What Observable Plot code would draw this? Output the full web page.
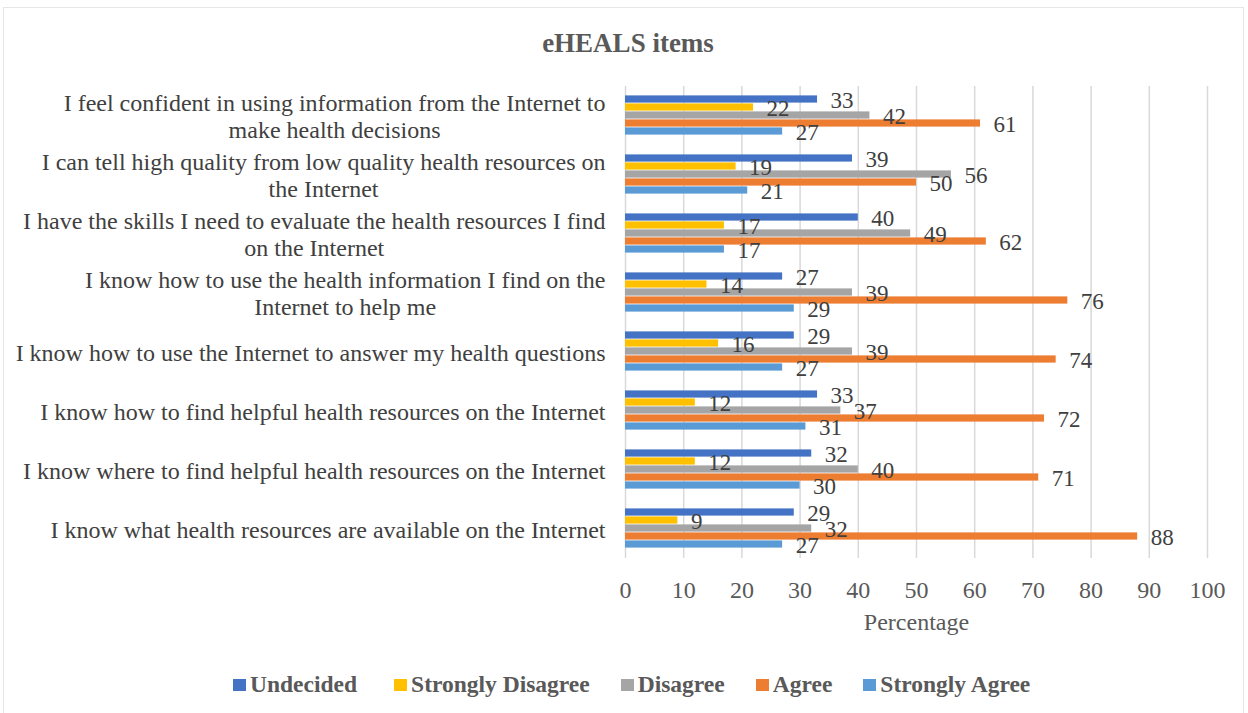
<!DOCTYPE html>
<html>
<head>
<meta charset="utf-8">
<script src="https://cdn.jsdelivr.net/npm/d3@7"></script>
<script src="https://cdn.jsdelivr.net/npm/@observablehq/plot@0.6"></script>
<style>
  body { margin: 0; background: #fff; }
  #wrap { position: relative; width: 1248px; height: 713px; font-family: "Liberation Serif", "Times New Roman", serif; }
  #border { position: absolute; left: 3px; top: 7px; width: 1241px; height: 710px; border: 1px solid #e6e6e6; box-sizing: border-box; }
  #title { position: absolute; left: 8px; top: 28px; width: 1240px; text-align: center; font-weight: bold; font-size: 27px; line-height: 30px; color: #595959; }
  #chart { position: absolute; left: 0; top: 70px; }
  #legend { position: absolute; left: 233px; top: 670px; display: flex; align-items: center; font-weight: bold; font-size: 23.5px; line-height: 28px; color: #595959; white-space: nowrap; }
  .item { display: flex; align-items: center; margin-right: 31px; }
  .item:first-child { margin-right: 37px; }
  .sw { width: 13px; height: 12px; margin-right: 4px; margin-top: 2px; }
</style>
</head>
<body>
<div id="wrap">
  <div id="border"></div>
  <div id="title">eHEALS items</div>
  <div id="chart"></div>
  <div id="legend"></div>
</div>
<script>
const categories = [
  "I feel confident in using information from the Internet to make health decisions",
  "I can tell high quality from low quality health resources on the Internet",
  "I have the skills I need to evaluate the health resources I find on the Internet",
  "I know how to use the health information I find on the Internet to help me",
  "I know how to use the Internet to answer my health questions",
  "I know how to find helpful health resources on the Internet",
  "I know where to find helpful health resources on the Internet",
  "I know what health resources are available on the Internet"
];
const tickLabels = [
  "I feel confident in using information from the Internet to\nmake health decisions",
  "I can tell high quality from low quality health resources on\nthe Internet",
  "I have the skills I need to evaluate the health resources I find\non the Internet",
  "I know how to use the health information I find on the\nInternet to help me",
  "I know how to use the Internet to answer my health questions",
  "I know how to find helpful health resources on the Internet",
  "I know where to find helpful health resources on the Internet",
  "I know what health resources are available on the Internet"
];
const seriesNames = ["Undecided", "Strongly Disagree", "Disagree", "Agree", "Strongly Agree"];
const undecided        = [33, 39, 40, 27, 29, 33, 32, 29];
const stronglyDisagree = [22, 19, 17, 14, 16, 12, 12, 9];
const disagree         = [42, 56, 49, 39, 39, 37, 40, 32];
const agree            = [61, 50, 62, 76, 74, 72, 71, 88];
const stronglyAgree    = [27, 21, 17, 29, 27, 31, 30, 27];
const seriesColors = ["#4472C4", "#FFC000", "#A5A5A5", "#ED7D31", "#5B9BD5"];
const xTicks = [0, 10, 20, 30, 40, 50, 60, 70, 80, 90, 100];

const seriesValues = [undecided, stronglyDisagree, disagree, agree, stronglyAgree];
const data = [];
categories.forEach((c, i) => {
  seriesNames.forEach((s, j) => {
    data.push({category: c, series: s, value: seriesValues[j][i]});
  });
});
const labelOf = new Map(categories.map((c, i) => [c, tickLabels[i]]));

const chart = Plot.plot({
  width: 1248,
  height: 580,
  marginTop: 16,
  marginBottom: 91.7,
  marginLeft: 625,
  marginRight: 41,
  style: {fontFamily: "'Liberation Serif', 'Times New Roman', serif", fontSize: "24px", background: "transparent"},
  x: {domain: [0, 100], axis: null},
  y: {domain: seriesNames, paddingInner: 0, paddingOuter: 0.93, axis: null},
  fy: {domain: categories, padding: 0, axis: null},
  color: {domain: seriesNames, range: seriesColors},
  marks: [
    Plot.gridX(xTicks, {stroke: "#d9d9d9", strokeOpacity: 1, strokeWidth: 1.5}),
    Plot.barX(data, {x: "value", y: "series", fy: "category", fill: "series", insetTop: 0.4, insetBottom: 0.4}),
    Plot.text(data, {x: "value", y: "series", fy: "category", text: d => String(d.value), dx: 13, dy: 1.5, textAnchor: "start", fontSize: 23, fill: "#404040"}),
    Plot.axisX({ticks: xTicks, tickSize: 0, tickPadding: 22, fontSize: 24, color: "#595959", label: "Percentage", labelAnchor: "center", labelArrow: "none", labelOffset: 71}),
    Plot.axisFy({anchor: "left", tickSize: 0, tickPadding: 20, fontSize: 24, color: "#404040", tickFormat: d => labelOf.get(d), lineHeight: 1.12, label: null})
  ]
});
document.getElementById("chart").appendChild(chart);

// center the lines of the wrapped category labels, as in the reference
chart.querySelectorAll('g[aria-label="fy-axis tick label"] text').forEach(t => {
  const spans = t.querySelectorAll("tspan");
  if (spans.length > 1) {
    let maxW = 0;
    spans.forEach(s => { maxW = Math.max(maxW, s.getComputedTextLength()); });
    t.setAttribute("text-anchor", "middle");
    spans.forEach(s => s.setAttribute("x", -maxW / 2));
  }
});

const legend = document.getElementById("legend");
seriesNames.forEach((s, i) => {
  const item = document.createElement("div");
  item.className = "item";
  const sw = document.createElement("span");
  sw.className = "sw";
  sw.style.background = seriesColors[i];
  const lab = document.createElement("span");
  lab.textContent = s;
  item.appendChild(sw);
  item.appendChild(lab);
  legend.appendChild(item);
});
</script>
</body>
</html>
